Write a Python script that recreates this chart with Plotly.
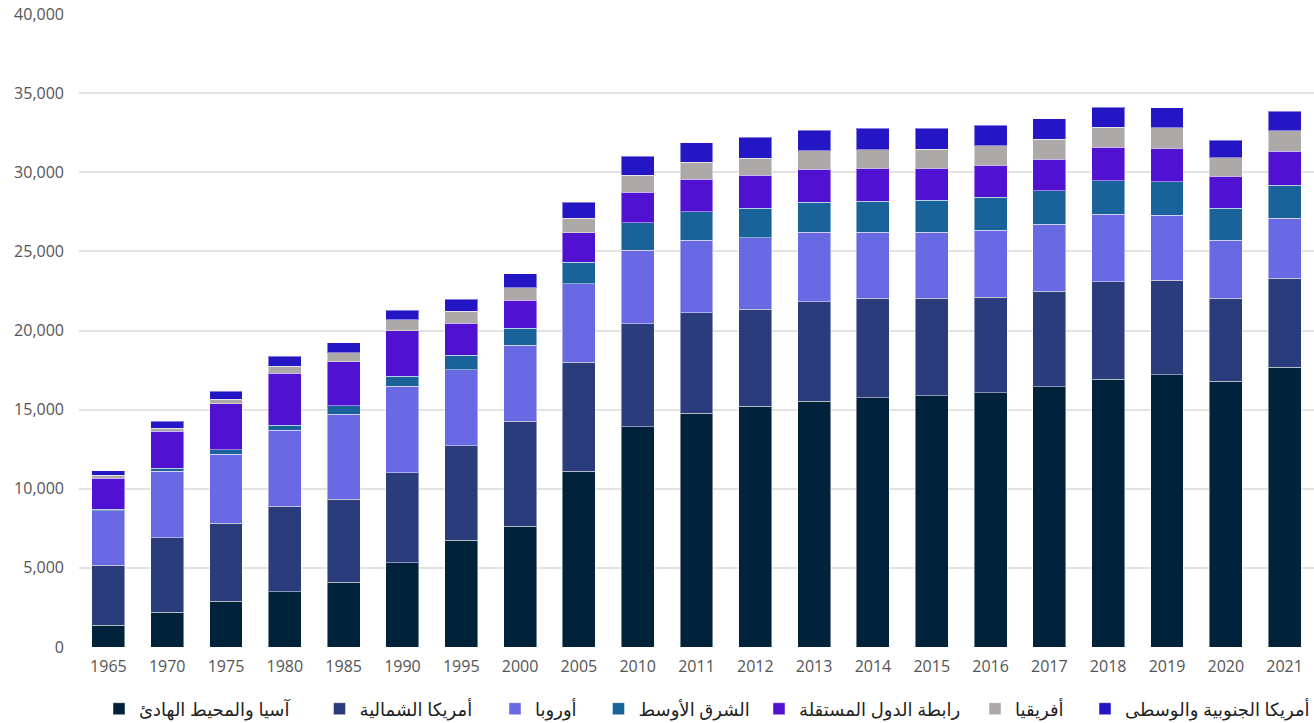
import plotly.graph_objects as go

years = ["1965", "1970", "1975", "1980", "1985", "1990", "1995", "2000", "2005", "2010",
         "2011", "2012", "2013", "2014", "2015", "2016", "2017", "2018", "2019", "2020", "2021"]

asia_pacific = [1390, 2193, 2888, 3494, 4107, 5327, 6761, 7646, 11121, 13921,
                14767, 15199, 15526, 15754, 15880, 16069, 16449, 16916, 17207, 16790, 17693]
north_america = [3772, 4714, 4927, 5416, 5245, 5687, 5959, 6635, 6888, 6509,
                 6357, 6159, 6294, 6299, 6173, 6028, 6028, 6167, 5984, 5263, 5605]
europe = [3451, 4214, 4381, 4783, 5371, 5479, 4803, 4802, 4948, 4656,
          4594, 4506, 4404, 4171, 4171, 4253, 4252, 4259, 4088, 3647, 3791]
middle_east = [107, 171, 253, 316, 525, 632, 910, 1056, 1352, 1726,
               1789, 1857, 1896, 1959, 2022, 2086, 2105, 2124, 2124, 2041, 2104]
cis = [1940, 2338, 2925, 3305, 2780, 2862, 2022, 1788, 1871, 1939,
       2047, 2086, 2066, 2066, 2022, 2022, 2003, 2129, 2109, 2002, 2149]
africa = [209, 209, 278, 423, 569, 677, 777, 777, 928, 1075,
          1075, 1093, 1175, 1176, 1201, 1220, 1245, 1263, 1302, 1176, 1283]
south_central_america = [271, 423, 525, 651, 632, 631, 758, 885, 992, 1200,
                         1238, 1308, 1308, 1351, 1327, 1307, 1301, 1264, 1264, 1118, 1226]

series_names = ["آسيا والمحيط الهادئ", "أمريكا الشمالية", "أوروبا", "الشرق الأوسط",
                "رابطة الدول المستقلة", "أفريقيا", "أمريكا الجنوبية والوسطى"]
series_values = [asia_pacific, north_america, europe, middle_east, cis, africa, south_central_america]
series_colors = ["#00223A", "#2B3C7C", "#6869E3", "#19639A", "#5011D0", "#ADA9A9", "#2416C4"]
# horizontal centre (px) of each legend swatch in the 1314 px wide page
legend_swatch_px = [119, 339.5, 515, 618.5, 779, 995, 1105]

y_ticks = [0, 5000, 10000, 15000, 20000, 25000, 30000, 35000, 40000]
y_tick_labels = ["0", "5,000", "10,000", "15,000", "20,000", "25,000", "30,000", "35,000", "40,000"]

W, H = 1314, 723
fig = go.Figure()
legend_layouts = {}
for i, (name, vals, col, sx) in enumerate(zip(series_names, series_values, series_colors, legend_swatch_px)):
    key = "legend" if i == 0 else f"legend{i + 1}"
    fig.add_trace(go.Bar(
        x=years, y=vals, name=name, legend=key,
        marker=dict(color=col, line=dict(color="rgba(255,255,255,0.45)", width=1)),
    ))
    legend_layouts[key] = dict(
        orientation="h", xref="container", yref="container",
        x=(sx - 20) / W, xanchor="left", y=1 - 709 / H, yanchor="middle",
        font=dict(size=18, color="#222222", family="Noto Sans, DejaVu Sans"),
        bgcolor="rgba(0,0,0,0)", borderwidth=0, itemclick=False,
    )

fig.update_layout(
    barmode="stack",
    bargap=0.44,
    width=W, height=H,
    margin=dict(l=79, r=0, t=14, b=76, autoexpand=False),
    paper_bgcolor="white",
    plot_bgcolor="white",
    font=dict(family="Open Sans, Noto Sans, DejaVu Sans", size=16, color="#555555"),
    xaxis=dict(type="category", showgrid=False, showline=False, zeroline=False,
               ticks="", ticklabelstandoff=8, tickfont=dict(size=16, color="#555555")),
    yaxis=dict(range=[0, 40000], tickvals=y_ticks, ticktext=y_tick_labels,
               showgrid=True, gridcolor="#e3e3e3", gridwidth=1.5, zeroline=False,
               showline=False, ticks="", ticklabelstandoff=14,
               tickfont=dict(size=16, color="#555555")),
    showlegend=True,
    **legend_layouts,
)

fig.write_html("out.html")
